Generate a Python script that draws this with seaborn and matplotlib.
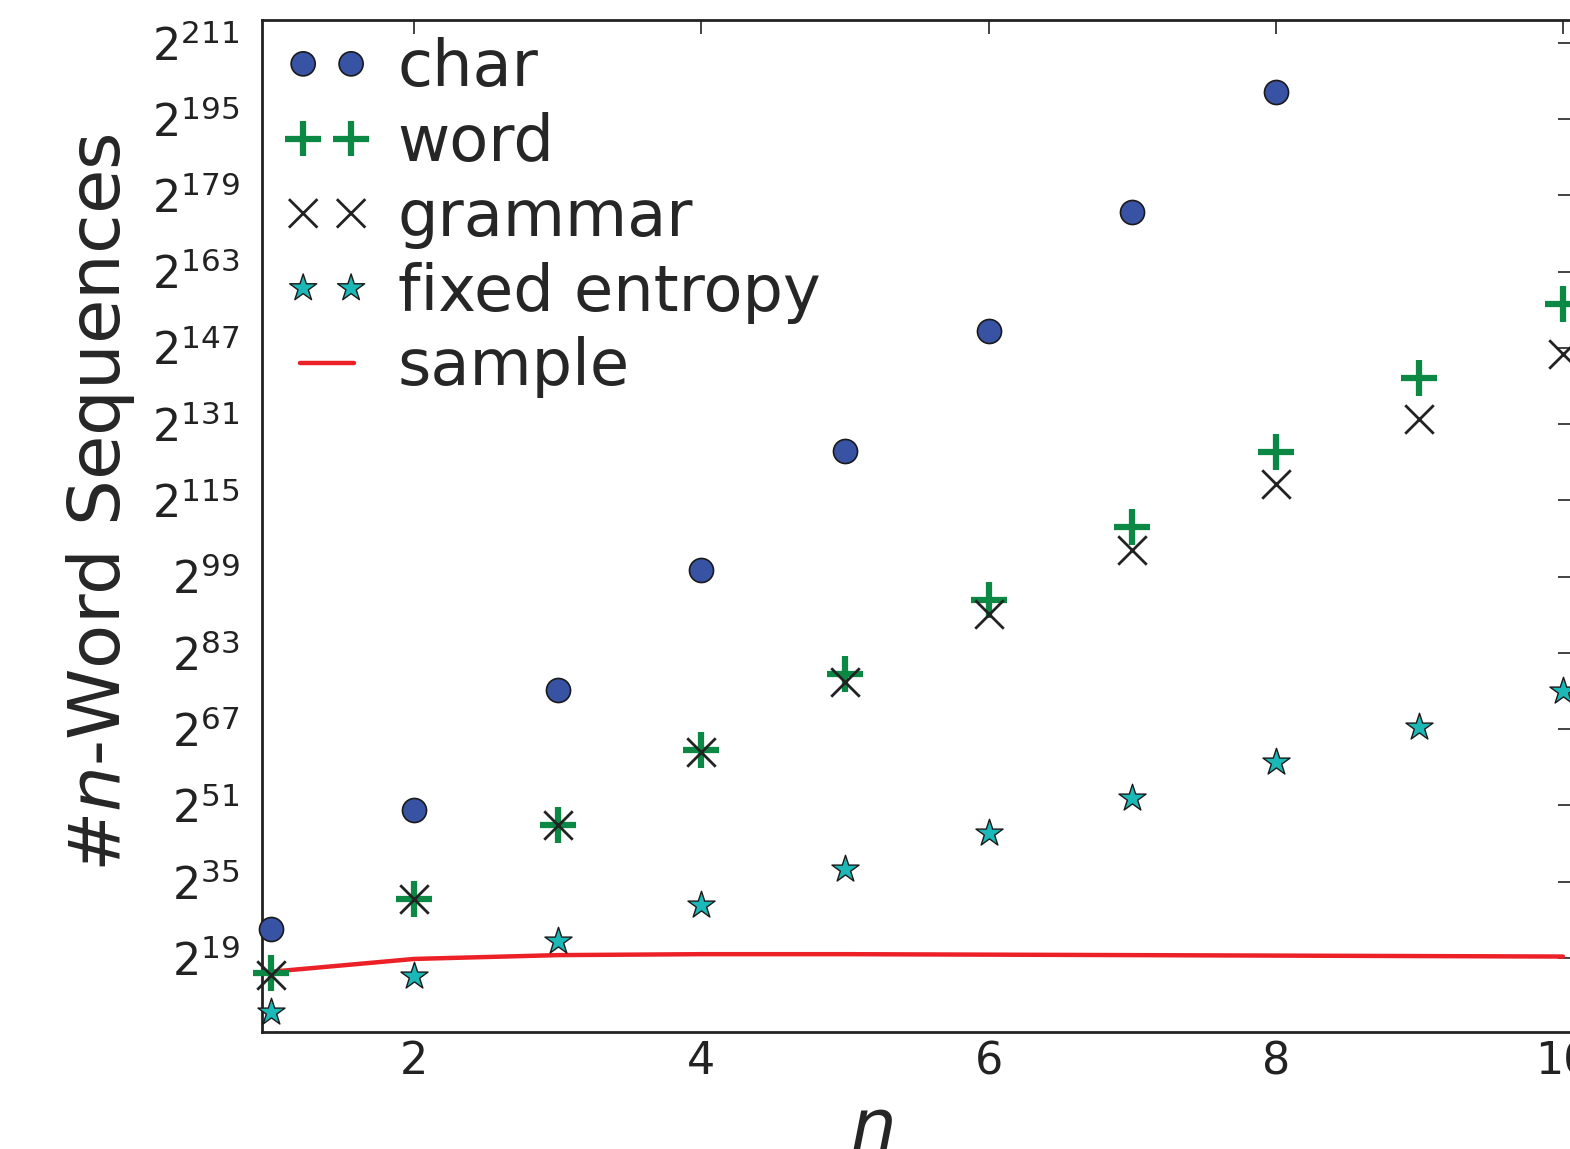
import numpy as np
import pandas as pd
import matplotlib
matplotlib.use("Agg")
import matplotlib.pyplot as plt
import matplotlib.ticker as mticker
from matplotlib.collections import PathCollection
from matplotlib.legend_handler import HandlerPathCollection
import seaborn as sns

# n-gram length
n_vals = [1, 2, 3, 4, 5, 6, 7, 8, 9, 10]

# log2 of the number of sequences
char_log2 = [25.1, 50.1, 75.3, 100.3, 125.3, 150.5, 175.5, 200.7]
word_log2 = [15.8, 31.4, 46.9, 62.7, 78.5, 94.2, 109.5, 125.1, 140.6, 156.2]
grammar_log2 = [15.4, 31.4, 46.9, 62.3, 76.8, 91.1, 104.7, 118.4, 132.0, 145.7]
fixed_log2 = [7.6, 15.2, 22.6, 30.1, 37.7, 45.3, 52.6, 60.2, 67.5, 75.1]
sample_log2 = [16.1, 18.8, 19.6, 19.8, 19.8, 19.7, 19.6, 19.5, 19.4, 19.3]

ytick_exps = list(range(19, 212, 16))


def frame(vals):
    return pd.DataFrame({"n": n_vals[:len(vals)], "count": np.power(2.0, vals)})


sns.set_style("white")
plt.rcParams["font.family"] = ["DejaVu Sans"]
plt.rcParams["mathtext.fontset"] = "dejavusans"

fig = plt.figure(figsize=(15.7, 11.49), dpi=100)
# right spine sits just past the right edge of the picture
ax = fig.add_axes([262 / 1570, 1 - 1032 / 1149, 1310 / 1570, 1012 / 1149])

sns.scatterplot(data=frame(char_log2), x="n", y="count", ax=ax, marker="o",
                s=300, color="#3953A4", edgecolor="#1a1a1a", linewidth=1.2,
                label="char", zorder=3, clip_on=False)
sns.scatterplot(data=frame(word_log2), x="n", y="count", ax=ax, marker="+",
                s=650, color="#0B8843", linewidth=4.5, label="word",
                zorder=3, clip_on=False)
sns.scatterplot(data=frame(grammar_log2), x="n", y="count", ax=ax, marker="x",
                s=420, color="#222222", linewidth=2.0, label="grammar",
                zorder=4, clip_on=False)
sns.scatterplot(data=frame(fixed_log2), x="n", y="count", ax=ax, marker="*",
                s=420, color="#1CB8B8", edgecolor="#1a1a1a", linewidth=1.0,
                label="fixed entropy", zorder=3, clip_on=False)
sns.lineplot(data=frame(sample_log2), x="n", y="count", ax=ax, color="#EC2027",
             linewidth=3.2, label="sample", zorder=2)

ax.set_yscale("log", base=2)
ax.set_xlim(0.94, 10.063)
ax.set_ylim(2 ** 3.47, 2 ** 215.8)
ax.set_yticks([2.0 ** e for e in ytick_exps])
ax.yaxis.set_major_formatter(mticker.FuncFormatter(
    lambda v, p: r"$2^{%d}$" % round(np.log2(v))))
ax.yaxis.set_minor_locator(mticker.NullLocator())
ax.set_xticks([2, 4, 6, 8, 10])

ax.tick_params(axis="both", which="major", direction="in", length=10,
               width=1.2, labelsize=32, top=True, right=True, colors="#222222")
ax.tick_params(axis="x", pad=6)
ax.tick_params(axis="y", pad=16)
for s in ax.spines.values():
    s.set_linewidth(2)
    s.set_color("#222222")

ax.set_xlabel(r"$n$", fontsize=52)
ax.set_ylabel(r"#$n$-Word Sequences", fontsize=52)
ax.xaxis.set_label_coords(0.465, -0.062)
ax.yaxis.set_label_coords(-0.0954, 0.523)

ax.legend(loc="upper left", bbox_to_anchor=(0.029, 0.983), frameon=False,
          fontsize=46, scatterpoints=2, scatteryoffsets=[0.5],
          handlelength=0.85, handletextpad=0.68,
          labelspacing=0.2, borderaxespad=0.0, borderpad=0.0,
          handler_map={PathCollection: HandlerPathCollection(marker_pad=0.05)})

fig.savefig("out.png", dpi=100)
